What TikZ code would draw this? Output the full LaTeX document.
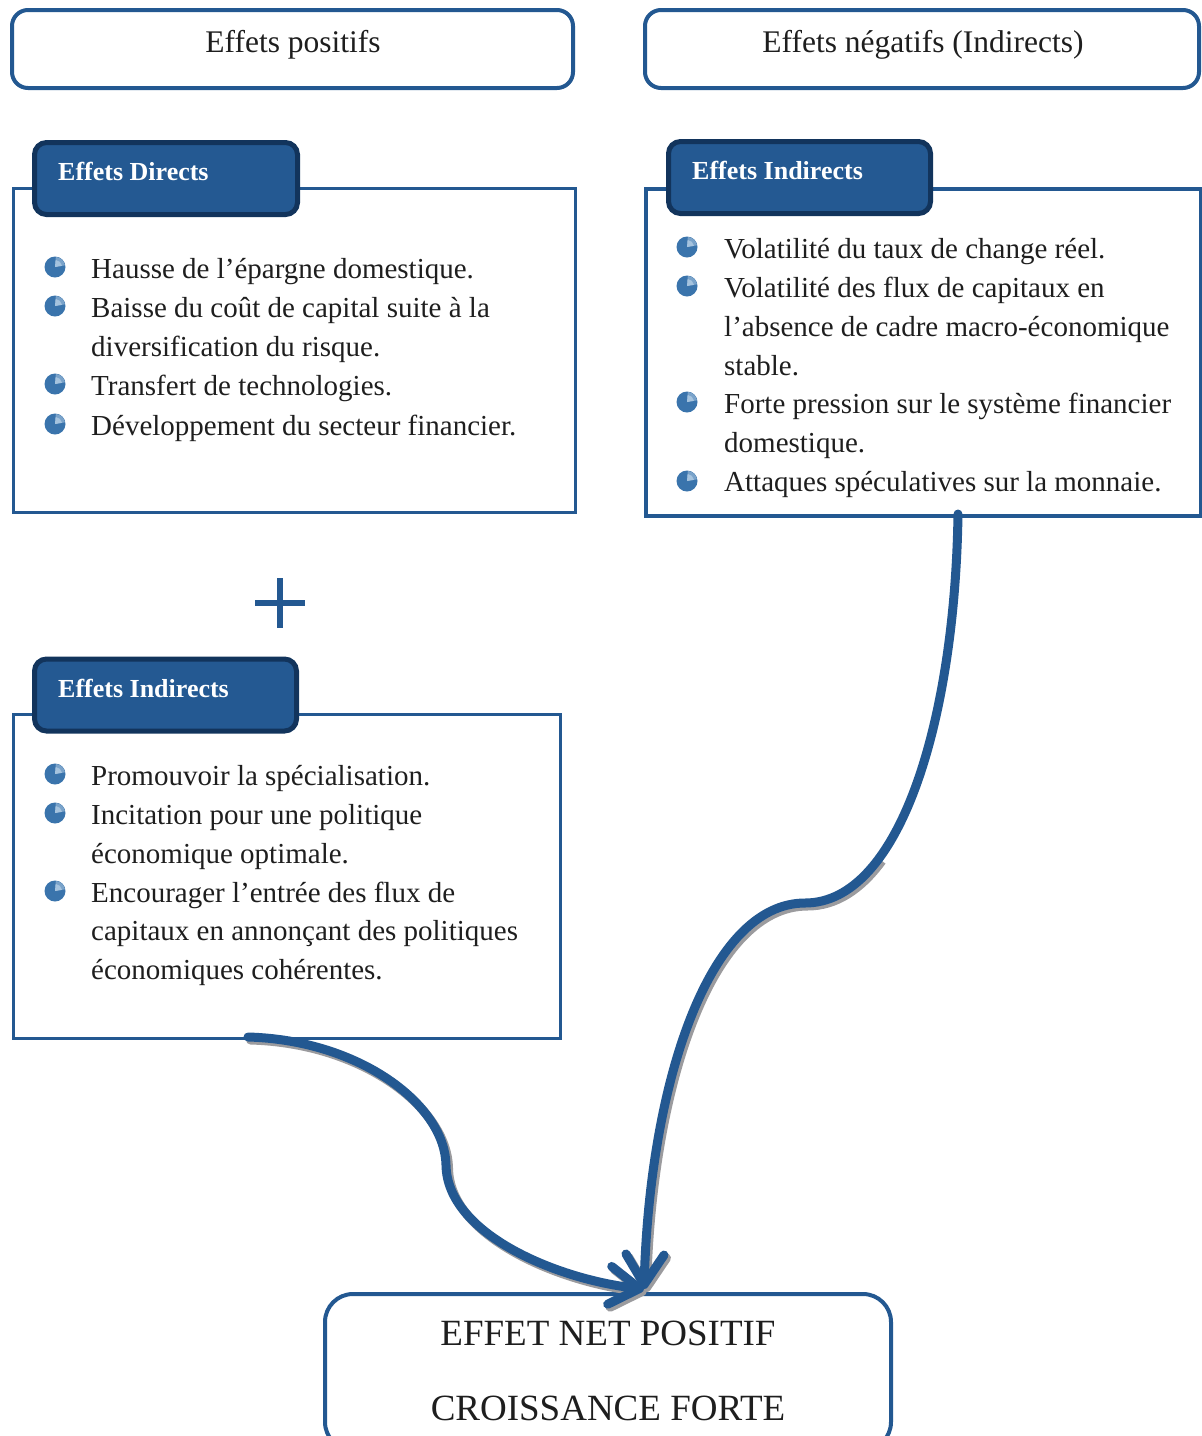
\documentclass[tikz,border=0pt]{standalone}
\usepackage{fontspec}
\setmainfont{Liberation Serif}
\usetikzlibrary{arrows.meta}
\definecolor{lineblue}{RGB}{35,88,145}
\definecolor{tabfill}{RGB}{36,89,146}
\definecolor{tabedge}{RGB}{18,52,92}
\definecolor{bulblue}{RGB}{58,116,172}
\definecolor{bullight}{RGB}{165,195,222}
\definecolor{textcol}{RGB}{30,30,30}
\definecolor{shadowgray}{RGB}{155,155,158}
\begin{document}
\begin{tikzpicture}[x=1pt,y=-1pt,
  topbox/.style={draw=lineblue, line width=4pt, rounded corners=16pt, minimum width=#1, minimum height=78pt, inner sep=0, anchor=center},
  panel/.style={draw=lineblue, line width=3.8pt, anchor=north west, inner sep=0},
  tab/.style={draw=tabedge, line width=5pt, fill=tabfill, rounded corners=12pt, minimum height=72pt, inner sep=0, anchor=center},
  tabtxt/.style={anchor=base west, inner sep=0, text=white, font=\bfseries\fontsize{26}{30}\selectfont},
  toptxt/.style={anchor=base, inner sep=0, text=textcol, font=\fontsize{31.5}{36}\selectfont},
  bigtxt/.style={anchor=base, inner sep=0, text=textcol, font=\fontsize{37}{42}\selectfont},
  txt/.style={anchor=base west, inner sep=0, text=textcol, font=\fontsize{29}{39}\selectfont},
  bul/.style={circle, inner sep=0, minimum size=21pt, fill=bulblue,
    path picture={\fill[bullight!60!bulblue] (path picture bounding box.center) -- ++(10pt,1.7pt) arc[start angle=10, end angle=85, radius=10.2pt] -- cycle;
                  \fill[bullight] (path picture bounding box.center) -- ++(7pt,1.2pt) arc[start angle=10, end angle=85, radius=7.1pt] -- cycle;}},
  conn/.style={draw=lineblue, line width=9pt, line cap=round, -{Straight Barb[length=30pt,width=38pt,round]}},
  connshadow/.style={draw=shadowgray, line width=9pt, line cap=#1, -{Straight Barb[length=30pt,width=38pt,round]}},
  connshadow/.default=round
]
\useasboundingbox (0,0) rectangle (1202,1436);

% top boxes
\node[topbox=561pt] (pos) at (292.5,49) {};
\node[toptxt] (postxt) at (293,52) {Effets positifs};
\node[topbox=554pt] (neg) at (922,49) {};
\node[toptxt] (negtxt) at (923,52) {Effets négatifs (Indirects)};

% panel 1: effets directs
\node[panel, minimum width=562pt, minimum height=324pt] (p1) at (11.5,186.5) {};
\node[tab, minimum width=263pt] (t1) at (166,178.5) {};
\node[tabtxt] (t1txt) at (58,180) {Effets Directs};
\node[bul] (b11) at (55,267) {};
\node[txt] (l11) at (91,278) {Hausse de l’épargne domestique.};
\node[bul] (b12) at (55,306) {};
\node[txt] (l12) at (91,317) {Baisse du coût de capital suite à la};
\node[txt] (l13) at (91,356) {diversification du risque.};
\node[bul] (b13) at (55,384) {};
\node[txt] (l14) at (91,395) {Transfert de technologies.};
\node[bul] (b14) at (55,424) {};
\node[txt] (l15) at (91,435) {Développement du secteur financier.};

% plus sign
\draw[draw=lineblue, line width=5.5pt] (255,603) -- (305,603);
\draw[draw=lineblue, line width=5.5pt] (280,578) -- (280,628);

% panel 3: effets indirects (left)
\node[panel, minimum width=547pt, minimum height=324pt] (p3) at (11.5,712.5) {};
\node[tab, minimum width=262pt] (t3) at (165.5,695) {};
\node[tabtxt] (t3txt) at (58,697) {Effets Indirects};
\node[bul] (b31) at (55,774) {};
\node[txt] (l31) at (91,785) {Promouvoir la spécialisation.};
\node[bul] (b32) at (55,813) {};
\node[txt] (l32) at (91,824) {Incitation pour une politique};
\node[txt] (l33) at (91,863) {économique optimale.};
\node[bul] (b33) at (55,891) {};
\node[txt] (l34) at (91,902) {Encourager l’entrée des flux de};
\node[txt] (l35) at (91,940) {capitaux en annonçant des politiques};
\node[txt] (l36) at (91,979) {économiques cohérentes.};

% panel 2: effets indirects (right)
\node[panel, minimum width=555pt, minimum height=327pt] (p2) at (644,187) {};
\node[tab, minimum width=262pt] (t2) at (799.5,177.5) {};
\node[tabtxt] (t2txt) at (692,179) {Effets Indirects};
\node[bul] (b21) at (687,247) {};
\node[txt] (l21) at (724,258) {Volatilité du taux de change réel.};
\node[bul] (b22) at (687,286) {};
\node[txt] (l22) at (724,297) {Volatilité des flux de capitaux en};
\node[txt] (l23) at (724,336) {l’absence de cadre macro-économique};
\node[txt] (l24) at (724,375) {stable.};
\node[bul] (b23) at (687,402) {};
\node[txt] (l25) at (724,413) {Forte pression sur le système financier};
\node[txt] (l26) at (724,452) {domestique.};
\node[bul] (b24) at (687,481) {};
\node[txt] (l27) at (724,491) {Attaques spéculatives sur la monnaie.};

% bottom box
\node[topbox=566pt, minimum height=156pt, rounded corners=28pt] (res) at (608,1372) {};
\node[bigtxt] (res1) at (608,1345) {EFFET NET POSITIF};
\node[bigtxt] (res2) at (608,1420) {CROISSANCE FORTE};

% connectors
\coordinate (lstart) at (248,1037);
\coordinate (rstart) at (958,514);
\coordinate (rmid) at (879.4,857.9);
\coordinate (tip) at (644,1289);
\begin{scope}[transform canvas={shift={(2.5pt,-3pt)}}]
\draw[connshadow] (lstart) .. controls (360,1040) and (445,1105) .. (446,1165) .. controls (447,1235) and (560,1280) .. (tip);
\draw[connshadow=butt] (rmid) .. controls (858.4,886.5) and (833.5,903) .. (805,903) .. controls (710,903) and (650,1080) .. (tip);
\end{scope}
\draw[conn] (lstart) .. controls (360,1040) and (445,1105) .. (446,1165) .. controls (447,1235) and (560,1280) .. (tip);
\draw[conn] (rstart) .. controls (955,720) and (900,903) .. (805,903) .. controls (710,903) and (650,1080) .. (tip);
\end{tikzpicture}
\end{document}
